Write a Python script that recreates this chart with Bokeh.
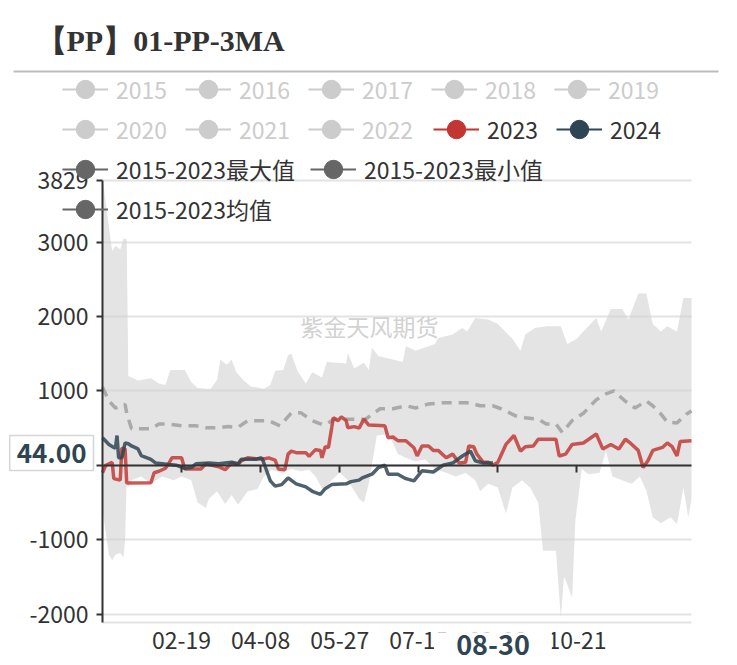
import datetime
from bokeh.plotting import figure
from bokeh.models import (Range1d, FixedTicker, Legend, LegendItem, Label, Grid, LinearAxis,
                          BoxAnnotation, ColumnDataSource)
from bokeh.embed import file_html
from bokeh.resources import INLINE

# ---------------- data ----------------
# category axis: calendar days (leap-year calendar, 366 categories)
CATEGORIES = [(datetime.date(2024, 1, 1) + datetime.timedelta(days=i)).strftime("%m-%d")
              for i in range(366)]
TICK_LABELS = ["02-19", "04-08", "05-27", "07-15", "09-02", "10-21"]
Y_TICKS = [-2000, -1000, 0, 1000, 2000, 3000, 3829]
Y_MIN, Y_MAX = -2110, 3829
POINTER_X = "08-30"
POINTER_Y = 44.0
TITLE = "【PP】01-PP-3MA"
WATERMARK = "紫金天风期货"
YEARS = ["2015", "2016", "2017", "2018", "2019", "2020", "2021", "2022", "2023", "2024"]
SHOWN_YEARS = ["2023", "2024"]
BAND_LABELS = ["2015-2023最大值", "2015-2023最小值", "2015-2023均值"]

MAX_2015_2023 = [
    ("01-01", 3829), ("01-02", 3700), ("01-05", 3200), ("01-07", 2880), ("01-09", 2950),
    ("01-12", 2900), ("01-14", 3050), ("01-16", 3040), ("01-17", 1200), ("01-23", 1140),
    ("01-31", 1170), ("02-05", 1100), ("02-09", 1080), ("02-12", 1280), ("02-21", 1280),
    ("02-25", 1120), ("02-29", 1040), ("03-08", 1025), ("03-12", 1150), ("03-14", 1420),
    ("03-18", 1350), ("03-21", 1420), ("03-24", 1250), ("03-28", 1150), ("04-02", 1060),
    ("04-10", 1030), ("04-14", 1080), ("04-17", 1270), ("04-22", 1280), ("04-25", 1480),
    ("04-27", 1500), ("05-01", 1260), ("05-06", 1100), ("05-10", 1250), ("05-16", 1180),
    ("05-19", 1390), ("05-31", 1370), ("06-01", 1510), ("06-05", 1300), ("06-11", 1380),
    ("06-14", 1280), ("06-16", 1580), ("06-20", 1470), ("07-05", 1390), ("07-07", 1600),
    ("07-13", 1540), ("07-25", 1630), ("07-27", 1710), ("08-05", 1760), ("08-11", 1845),
    ("08-14", 1800), ("08-19", 1980), ("08-27", 1960), ("09-02", 1900), ("09-11", 1700),
    ("09-16", 1540), ("09-19", 1760), ("09-25", 1845), ("10-02", 1870), ("10-11", 1870),
    ("10-15", 1630), ("10-21", 1700), ("10-25", 1800), ("11-02", 1980), ("11-05", 1800),
    ("11-11", 2100), ("11-18", 2100), ("11-22", 1960), ("11-28", 2310), ("12-03", 2310),
    ("12-07", 1900), ("12-12", 1800), ("12-16", 1870), ("12-22", 1800), ("12-26", 2250),
    ("12-31", 2250),
]
MIN_2015_2023 = [
    ("01-01", -600), ("01-03", -900), ("01-05", -1200), ("01-07", -1280), ("01-09", -1200),
    ("01-12", -1180), ("01-14", -1240), ("01-15", -1000), ("01-16", -200), ("01-17", -300),
    ("01-19", -200), ("01-25", -150), ("01-31", -250), ("02-07", -150), ("02-14", -200),
    ("02-19", -150), ("02-25", -200), ("02-29", -500), ("03-05", -570), ("03-07", -450),
    ("03-12", -350), ("03-17", -520), ("03-21", -400), ("03-25", -530), ("03-31", -350),
    ("04-06", -320), ("04-10", -150), ("04-15", -60), ("04-21", -100), ("04-27", -50),
    ("05-03", -80), ("05-08", -60), ("05-12", -150), ("05-17", -350), ("05-22", -200),
    ("05-27", -100), ("06-01", -200), ("06-08", -450), ("06-11", -500), ("06-14", -250),
    ("06-19", 400), ("06-26", 420), ("06-29", 300), ("07-02", 150), ("07-07", 100),
    ("07-13", 50), ("07-19", 80), ("07-25", -50), ("08-01", -100), ("08-07", -150),
    ("08-13", -100), ("08-19", -200), ("08-22", -350), ("08-27", -250), ("09-02", -300),
    ("09-07", -650), ("09-11", -300), ("09-17", -200), ("09-22", -300), ("09-27", -500),
    ("09-30", -1150), ("10-08", -1150), ("10-11", -2050), ("10-13", -1500), ("10-15", -1600),
    ("10-18", -1780), ("10-20", -750), ("10-24", -50), ("10-28", -120), ("11-04", -100),
    ("11-08", 190), ("11-12", -150), ("11-18", -200), ("11-24", -250), ("11-29", -150),
    ("12-03", -340), ("12-07", -700), ("12-12", -780), ("12-18", -700), ("12-22", -790),
    ("12-26", -300), ("12-29", -700), ("12-31", -450),
]
MEAN_2015_2023 = [
    ("01-01", 1050), ("01-05", 865), ("01-09", 770), ("01-12", 790), ("01-15", 820),
    ("01-16", 700), ("01-19", 490), ("01-31", 490), ("02-05", 555), ("02-11", 555),
    ("02-19", 530), ("02-28", 530), ("03-05", 505), ("03-13", 505), ("03-19", 520),
    ("03-25", 510), ("03-31", 600), ("04-07", 600), ("04-13", 600), ("04-20", 530),
    ("04-27", 705), ("05-03", 705), ("05-10", 600), ("05-17", 540), ("05-24", 620),
    ("06-04", 620), ("06-12", 620), ("06-21", 760), ("06-29", 760), ("07-07", 800),
    ("07-13", 770), ("07-21", 825), ("07-30", 840), ("08-07", 840), ("08-15", 840),
    ("08-22", 800), ("08-30", 800), ("09-04", 760), ("09-13", 665), ("09-19", 640),
    ("09-27", 620), ("10-02", 555), ("10-08", 555), ("10-12", 440), ("10-18", 600),
    ("10-25", 700), ("11-02", 880), ("11-08", 960), ("11-13", 1000), ("11-20", 860),
    ("11-26", 770), ("12-03", 865), ("12-07", 800), ("12-12", 690), ("12-16", 580),
    ("12-22", 570), ("12-28", 690), ("12-31", 730),
]
Y2023 = [
    ("01-01", -100), ("01-03", 0), ("01-05", 20), ("01-07", 40), ("01-08", -180),
    ("01-12", -200), ("01-13", 230), ("01-15", 220), ("01-16", -240), ("01-19", -240),
    ("01-31", -235), ("02-02", -100), ("02-05", -80), ("02-09", -40), ("02-11", 20),
    ("02-13", 100), ("02-19", 100), ("02-21", -50), ("03-02", -50), ("03-05", 20),
    ("03-09", 0), ("03-13", -20), ("03-17", -60), ("03-21", 30), ("03-25", 10),
    ("03-27", 60), ("03-31", 100), ("04-09", 80), ("04-13", 100), ("04-17", 70),
    ("04-19", -50), ("04-23", -60), ("04-25", 150), ("04-27", 190), ("04-30", 170),
    ("05-06", 170), ("05-08", 120), ("05-12", 210), ("05-15", 200), ("05-16", 100),
    ("05-18", 250), ("05-20", 240), ("05-22", 500), ("05-23", 640), ("05-26", 600),
    ("05-28", 650), ("05-31", 600), ("06-01", 505), ("06-05", 520), ("06-08", 500),
    ("06-11", 620), ("06-14", 540), ("06-24", 530), ("06-26", 370), ("06-29", 380),
    ("07-02", 330), ("07-07", 330), ("07-12", 235), ("07-14", 125), ("07-17", 260),
    ("07-21", 260), ("07-24", 200), ("07-27", 200), ("08-01", 100), ("08-05", 150),
    ("08-09", 30), ("08-13", 40), ("08-15", 260), ("08-18", 250), ("08-20", 150),
    ("08-24", 40), ("08-27", 40), ("08-30", 0), ("09-02", 40), ("09-07", 280),
    ("09-12", 400), ("09-16", 190), ("09-19", 250), ("09-24", 260), ("09-27", 350),
    ("10-08", 350), ("10-10", 125), ("10-14", 150), ("10-18", 280), ("10-25", 300),
    ("11-02", 420), ("11-06", 220), ("11-11", 280), ("11-16", 220), ("11-20", 350),
    ("11-23", 300), ("11-28", 200), ("12-01", -30), ("12-04", 60), ("12-07", 200),
    ("12-13", 240), ("12-16", 300), ("12-19", 250), ("12-22", 125), ("12-24", 320),
    ("12-31", 330),
]
Y2024 = [
    ("01-01", 370), ("01-05", 280), ("01-08", 240), ("01-09", 230), ("01-10", 400),
    ("01-11", 100), ("01-13", 100), ("01-15", 300), ("01-17", 290), ("01-19", 260),
    ("01-23", 220), ("01-25", 130), ("01-31", 80), ("02-03", 30), ("02-11", 10),
    ("02-16", 0), ("02-21", -40), ("02-25", -30), ("02-28", 20), ("03-07", 30),
    ("03-13", 20), ("03-21", 40), ("03-25", 20), ("03-27", 80), ("04-05", 80),
    ("04-08", 100), ("04-09", 90), ("04-11", -30), ("04-14", -210), ("04-17", -280),
    ("04-21", -260), ("04-25", -170), ("04-30", -250), ("05-06", -290), ("05-10", -350),
    ("05-15", -390), ("05-18", -315), ("05-22", -260), ("05-31", -250), ("06-03", -220),
    ("06-08", -200), ("06-10", -170), ("06-16", -120), ("06-20", -30), ("06-24", 0),
    ("06-26", -120), ("07-02", -120), ("07-07", -180), ("07-12", -210), ("07-17", -75),
    ("07-24", -90), ("07-30", 0), ("08-05", 30), ("08-11", 125), ("08-16", 190),
    ("08-19", 60), ("08-24", 30), ("08-30", 30),
]

# ---------------- layout constants (pixels) ----------------
IDX = {c: i for i, c in enumerate(CATEGORIES)}
FONT = "Noto Sans CJK SC"
FS = "23px"
W, H = 736, 664
PLOT_L, PLOT_R, PLOT_T, PLOT_B = 102, 691, 180, 621.7   # data area inside the canvas
X_END = len(CATEGORIES) - 1
PX_X = (PLOT_R - PLOT_L) / X_END
PX_Y = (PLOT_B - PLOT_T) / (Y_MAX - Y_MIN)
X0, X1 = -PLOT_L / PX_X, X_END + (W - PLOT_R) / PX_X
Y1, Y0 = Y_MAX + PLOT_T / PX_Y, Y_MIN - (H - PLOT_B) / PX_Y
GLYPH = 46
INACTIVE = "#cccccc"


def xy(pairs):
    return [IDX[d] for d, _ in pairs], [v for _, v in pairs]


p = figure(width=W, height=H, x_range=Range1d(X0, X1), y_range=Range1d(Y0, Y1),
           x_axis_type=None, y_axis_type=None, output_backend="svg",
           toolbar_location=None, min_border=0)
p.outline_line_color = None
p.background_fill_color = "white"
p.border_fill_color = "white"

# horizontal grid lines (only over the data area)
GRID_TICKS = Y_TICKS + [Y_MIN]
try:
    grid = Grid(dimension=1, ticker=FixedTicker(ticks=GRID_TICKS), cross_bounds=(0, X_END),
                grid_line_color="#e3e3e3", grid_line_width=2)
    p.add_layout(grid)
except Exception:
    p.segment(x0=[0] * len(GRID_TICKS), x1=[X_END] * len(GRID_TICKS), y0=GRID_TICKS,
              y1=GRID_TICKS, line_color="#e3e3e3", line_width=2, level="underlay")

# band between max and min
mx, my = xy(MAX_2015_2023)
nx, ny = xy(MIN_2015_2023)
p.patch(mx + nx[::-1], my + ny[::-1], fill_color="#d2d2d2", fill_alpha=0.6, line_color=None)

# mean, 2023, 2024
ax, ay = xy(MEAN_2015_2023)
p.line(ax, ay, line_color="#aaaaaa", line_width=3.5, line_dash="10 7")
x23, y23 = xy(Y2023)
p.line(x23, y23, line_color="#c23531", line_alpha=0.82, line_width=3.5)
x24, y24 = xy(Y2024)
p.line(x24, y24, line_color="#2f4554", line_alpha=0.85, line_width=3.5)

# axes
tick_idx = [IDX[t] for t in TICK_LABELS]
label_style = dict(major_label_text_font=FONT, major_label_text_font_size=FS,
                   major_label_text_color="#333333")
y_labels = {t: str(t) for t in Y_TICKS}
y_labels[0] = ""          # hidden behind the pointer label in the original

ya = LinearAxis(fixed_location=0, bounds=(Y_MIN, Y_MAX), ticker=FixedTicker(ticks=Y_TICKS),
                major_label_overrides=y_labels,
                axis_line_color="#333333", axis_line_width=2,
                major_tick_line_color="#333333", major_tick_line_width=2,
                major_tick_out=6, major_tick_in=0, minor_tick_line_color=None,
                major_label_standoff=8, **label_style)
p.add_layout(ya, "left")

xz = LinearAxis(fixed_location=0, bounds=(0, X_END), ticker=FixedTicker(ticks=tick_idx),
                axis_line_color="#333333", axis_line_width=2,
                major_tick_line_color="#333333", major_tick_line_width=2,
                major_tick_out=7, major_tick_in=0, minor_tick_line_color=None,
                major_label_text_color=None)
p.add_layout(xz, "below")

xb = LinearAxis(fixed_location=Y_MIN, bounds=(0, X_END), ticker=FixedTicker(ticks=tick_idx),
                major_label_overrides={i: t for i, t in zip(tick_idx, TICK_LABELS)},
                axis_line_color=None, major_tick_line_color=None, minor_tick_line_color=None,
                major_tick_out=0, major_tick_in=0, major_label_standoff=10, **label_style)
p.add_layout(xb, "below")

# watermark
p.add_layout(Label(x=0, y=Y_MAX, x_offset=198, y_offset=-145, text=WATERMARK,
                   text_font=FONT, text_font_size="23px", text_color="#d2d2d2",
                   text_baseline="middle", text_align="left"))

# title and the rule under it
p.add_layout(Label(x=0, y=Y_MAX, x_offset=-66, y_offset=140, text=TITLE,
                   text_font="Liberation Serif", text_font_style="bold",
                   text_font_size="30px", text_color="#333333", text_baseline="alphabetic"))
p.add_layout(BoxAnnotation(left=(13 - PLOT_L) / PX_X, right=(718 - PLOT_L) / PX_X,
                           top=Y_MAX + (PLOT_T - 70) / PX_Y, bottom=Y_MAX + (PLOT_T - 72) / PX_Y,
                           fill_color="#bdbdbd", fill_alpha=1, line_color=None))

# legends (proxy renderers for the icons)
NAN = float("nan")


def proxy(color, visible=True):
    src = ColumnDataSource(dict(x=[NAN], y=[NAN]))
    lr = p.line("x", "y", source=src, line_color=color, line_width=2)
    sr = p.scatter("x", "y", source=src, marker="circle", size=10, fill_color=color,
                   line_color=color)
    lr.visible = visible
    sr.visible = visible
    return [lr, sr]


COLORS = {"2023": "#c23531", "2024": "#2f4554"}
year_items = [LegendItem(label=yr, renderers=proxy(COLORS.get(yr, INACTIVE),
                                                   yr in SHOWN_YEARS)) for yr in YEARS]
band_items = [LegendItem(label=lab, renderers=proxy("#666666")) for lab in BAND_LABELS]

common = dict(orientation="horizontal", glyph_width=GLYPH, glyph_height=GLYPH,
              label_standoff=8, spacing=0, padding=0, margin=0, border_line_color=None,
              background_fill_alpha=0, label_text_font=FONT, label_text_font_size=FS,
              label_text_baseline="middle", label_width=69)
# (items, left px, row centre px, text colour)
legend_blocks = [(year_items[:5], 62, 89, INACTIVE), (year_items[5:8], 62, 129, INACTIVE),
                 (year_items[8:], 433, 129, "#333333"),
                 (band_items[:1], 62, 169, "#333333"), (band_items[1:2], 310, 169, "#333333"),
                 (band_items[2:], 62, 209, "#333333")]
for its, lx, cy, tc in legend_blocks:
    p.add_layout(Legend(items=its, location=(lx, H - cy - GLYPH / 2), label_text_color=tc,
                        **common))

# axis pointer labels (padding given as (horizontal, vertical))
p.add_layout(Label(x=0, y=POINTER_Y, x_offset=-9, y_offset=9, text=f"{POINTER_Y:.2f}",
                   text_font=FONT, text_font_style="bold", text_font_size="26px",
                   text_color="#2f4554", text_align="right", text_baseline="middle",
                   background_fill_color="white", border_line_color="#d6d6d6",
                   border_line_width=1.5, padding=(7, 8)))
p.add_layout(Label(x=IDX[POINTER_X], y=Y_MIN, y_offset=-23, text=POINTER_X,
                   text_font=FONT, text_font_style="bold", text_font_size="27px",
                   text_color="#2f4554", text_align="center", text_baseline="middle",
                   background_fill_color="white", padding=(22, 3)))

open("out.html", "w").write(file_html(p, INLINE))
